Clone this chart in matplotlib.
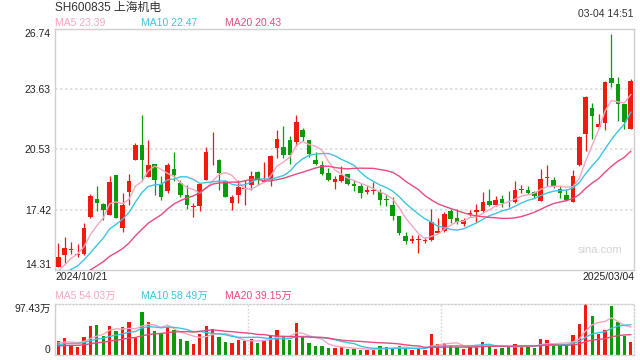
import numpy as np
import matplotlib
matplotlib.use("Agg")
import matplotlib.pyplot as plt

plt.rcParams['font.family'] = ['Liberation Sans', 'Noto Sans CJK SC', 'DejaVu Sans']

# 日K 数据 (2024/10/21 ~ 2025/03/04), 图上读数
opens = [14.48, 15.09, 15.36, 15.10, 15.14, 17.04, 17.98, 17.72, 17.16, 19.23,
         16.47, 18.31, 20.00, 20.78, 19.09, 19.80, 18.76, 18.36, 19.54, 18.80,
         18.19, 17.57, 17.59, 18.97, 20.07, 20.00, 18.88, 17.79, 18.19, 18.48,
         18.67, 19.36, 18.85, 18.97, 20.61, 20.66, 20.99, 20.92, 21.52, 20.99,
         20.00, 19.73, 19.31, 18.83, 18.92, 19.26, 18.74, 18.66, 18.31, 18.38,
         18.33, 17.95, 17.67, 17.12, 16.07, 15.83, 15.86, 15.82, 15.86, 16.24,
         16.33, 17.33, 16.98, 16.69, 17.22, 17.28, 17.33, 17.88, 17.67, 17.97,
         18.04, 17.80, 18.43, 18.45, 18.33, 17.85, 19.05, 18.93, 18.48, 18.16,
         17.80, 19.74, 21.35, 22.64, 21.69, 21.87, 24.19, 23.88, 22.85, 21.59]
closes = [15.00, 15.47, 15.40, 15.15, 16.50, 18.14, 17.79, 17.38, 18.83, 16.98,
          17.67, 18.92, 20.78, 20.00, 19.74, 18.93, 18.05, 19.74, 19.19, 18.16,
          17.64, 17.60, 18.76, 20.40, 20.10, 19.31, 18.10, 18.05, 18.57, 18.52,
          19.17, 18.97, 18.92, 20.18, 21.07, 20.26, 20.23, 21.93, 21.18, 20.30,
          19.80, 19.28, 18.97, 19.02, 19.23, 18.76, 18.62, 18.28, 18.45, 18.42,
          17.93, 17.91, 17.12, 16.21, 15.78, 15.93, 15.90, 15.86, 16.76, 16.33,
          17.21, 16.93, 16.76, 16.90, 17.26, 17.42, 17.80, 17.67, 17.93, 17.76,
          18.00, 18.45, 18.47, 18.28, 18.14, 19.02, 19.09, 18.62, 18.28, 17.90,
          19.17, 21.16, 23.23, 22.25, 21.85, 24.02, 23.94, 22.85, 21.93, 24.06]
highs = [15.69, 16.00, 15.74, 15.66, 16.72, 18.23, 18.62, 17.76, 19.14, 19.23,
         18.28, 19.28, 20.87, 22.28, 20.99, 19.80, 19.17, 19.83, 20.40, 18.93,
         18.71, 17.76, 18.76, 20.66, 21.42, 20.04, 18.97, 18.19, 18.97, 18.97,
         19.43, 19.43, 19.87, 20.26, 21.52, 21.76, 21.24, 22.28, 21.64, 20.99,
         20.38, 19.92, 19.57, 19.17, 19.69, 19.26, 18.93, 18.80, 18.62, 18.83,
         18.50, 18.24, 18.05, 17.12, 16.29, 16.09, 16.09, 16.03, 17.47, 16.98,
         17.28, 17.45, 17.47, 16.98, 17.38, 17.73, 18.33, 18.48, 18.11, 18.16,
         18.36, 18.92, 18.67, 18.62, 18.36, 19.54, 19.74, 19.09, 18.62, 18.48,
         19.45, 21.21, 23.28, 22.90, 22.37, 24.06, 26.47, 24.26, 22.85, 24.14]
lows = [14.48, 14.66, 15.14, 15.00, 15.10, 16.98, 17.33, 16.90, 17.16, 16.98,
        16.29, 17.67, 20.00, 18.88, 19.09, 18.19, 17.90, 18.28, 18.88, 18.07,
        17.47, 17.04, 17.33, 18.97, 19.74, 18.42, 18.07, 17.42, 17.76, 17.67,
        18.42, 18.71, 18.83, 18.66, 20.09, 20.09, 19.80, 20.73, 20.95, 20.12,
        19.74, 19.23, 18.88, 18.48, 18.83, 18.71, 18.36, 18.02, 18.24, 18.24,
        17.67, 17.62, 16.90, 16.12, 15.64, 15.72, 15.21, 15.69, 15.83, 16.21,
        16.29, 16.73, 16.69, 16.60, 17.07, 16.76, 17.28, 17.62, 17.59, 17.55,
        17.55, 17.76, 18.28, 18.23, 18.02, 17.85, 18.62, 18.54, 18.02, 17.85,
        17.80, 19.69, 20.43, 21.09, 21.64, 21.52, 23.76, 21.99, 21.56, 21.59]
# 成交量 (万手)
volumes = [26.9, 33.3, 19.2, 15.4, 34.6, 54.5, 56.4, 36.5, 55.8, 46.8,
           52.6, 62.2, 33.3, 81.4, 62.2, 46.8, 41.7, 52.6, 48.1, 30.8,
           26.9, 21.8, 40.4, 55.8, 50.0, 34.6, 25.0, 23.7, 28.8, 27.6,
           30.8, 23.7, 27.6, 38.5, 48.1, 36.5, 28.8, 60.3, 34.0, 23.7,
           17.3, 17.3, 13.5, 14.1, 14.7, 11.5, 11.5, 9.6, 9.6, 9.6,
           17.3, 14.7, 12.8, 17.3, 12.8, 9.6, 12.8, 9.6, 40.4, 21.2,
           22.4, 17.9, 14.7, 11.5, 16.0, 18.6, 25.0, 17.3, 11.5, 12.8,
           16.0, 21.2, 17.3, 16.0, 13.5, 30.8, 28.8, 19.2, 19.2, 17.9,
           38.5, 59.6, 97.43, 75.0, 40.4, 48.1, 94.2, 62.2, 37.2, 25.6]
# 均线计算用的前19日 (估计)
pre_close = [13.10, 13.25, 13.05, 13.40, 13.20, 13.60, 13.00, 13.35, 13.20, 13.45,
             13.30, 13.15, 13.40, 13.35, 14.50, 13.90, 13.70, 14.00, 14.68]
pre_vol = [14, 12, 15, 13, 16, 18, 14, 12, 15, 17, 13, 16, 14, 18, 20, 24, 19, 22, 23]

price_ticks = [14.31, 17.42, 20.53, 23.63, 26.74]
date_labels = ['2024/10/21', '2025/03/04']

RED = '#f01a10'
GREEN = '#0a9b0a'
C5 = '#f6a6bf'
C10 = '#3ec3e2'
C20 = '#e84a7e'
GRID = '#dddddd'
EDGE = '#cfcfcf'


def ma(pre, vals, n):
    s = np.array(pre + vals, dtype=float)
    out = np.convolve(s, np.ones(n) / n, mode='valid')
    return out[-len(vals):]


W, H = 640, 360
fig = plt.figure(figsize=(6.4, 3.6), dpi=100)
ax = fig.add_axes([55 / W, 1 - 270 / H, 579 / W, 241 / H])
axv = fig.add_axes([55 / W, 1 - 355 / H, 579 / W, 51 / H])

o = np.array(opens); c = np.array(closes)
x = np.arange(len(opens))
cols = np.where(c >= o, RED, GREEN)

# K线
ax.vlines(x, lows, highs, colors=cols, lw=0.9, zorder=3)
ax.bar(x, np.maximum(np.abs(c - o), 0.04), 0.72, bottom=np.minimum(o, c),
       color=cols, linewidth=0, zorder=3)
ax.plot(x, ma(pre_close, closes, 5), color=C5, lw=1, zorder=4)
ax.plot(x, ma(pre_close, closes, 10), color=C10, lw=1, zorder=4)
ax.plot(x, ma(pre_close, closes, 20), color=C20, lw=1, zorder=4)

ax.set_xlim(-0.5, len(x) - 0.5)
ax.set_ylim(price_ticks[0], price_ticks[-1])
for t in price_ticks[1:-1]:
    ax.axhline(t, color=GRID, lw=1.2, ls=(0, (1.5, 1.5)), zorder=1)
ax.set_yticks(price_ticks)
ax.set_yticklabels(['%.2f' % t for t in price_ticks])
ax.tick_params(axis='y', length=0, pad=3, labelsize=7.5, labelcolor='#222222')
ax.set_xticks([])
labs = ax.get_yticklabels()
labs[0].set_va('bottom')
labs[-1].set_va('top')
for s in ax.spines.values():
    s.set_color(EDGE)
    s.set_linewidth(1)
ax.text(0.98, 0.085, 'sina.com', transform=ax.transAxes, ha='right', va='center',
        fontsize=8, color='#d4d4d4')

# 成交量
axv.bar(x, volumes, 0.52, color=cols, linewidth=0, zorder=2)
axv.plot(x, ma(pre_vol, volumes, 5), color=C5, lw=1, zorder=3)
axv.plot(x, ma(pre_vol, volumes, 10), color=C10, lw=1, zorder=3)
axv.plot(x, ma(pre_vol, volumes, 20), color=C20, lw=1, zorder=3)
axv.set_xlim(-0.5, len(x) - 0.5)
axv.set_ylim(0, max(volumes))
axv.set_xticks([])
axv.set_yticks([0, max(volumes)])
axv.set_yticklabels(['0', '%.2f万' % max(volumes)])
axv.tick_params(axis='y', length=0, pad=3, labelsize=7.5, labelcolor='#222222')
vl = axv.get_yticklabels()
vl[0].set_va('bottom')
vl[-1].set_va('top')
for k in (29.5, 59.5):
    axv.axvline(k, color=EDGE, lw=1, ls=(0, (1, 1.5)), zorder=1)
for name, s in axv.spines.items():
    s.set_color(EDGE)
    s.set_linewidth(1)
    if name != 'left':
        s.set_linestyle((0, (1, 1.5)))

# 文字
def ft(px, py, txt, **kw):
    fig.text(px / W, 1 - py / H, txt, va='center', **kw)

ft(55, 8, 'SH600835 上海机电', fontsize=8.5, color='#333333')
ft(634, 14, '03-04 14:51', fontsize=7.5, color='#333333', ha='right')
ft(55, 23.5, 'MA5 %.2f' % 23.39, fontsize=7.5, color=C5)
ft(140.7, 23.5, 'MA10 %.2f' % 22.47, fontsize=7.5, color=C10)
ft(225.3, 23.5, 'MA20 %.2f' % 20.43, fontsize=7.5, color=C20)
ft(55, 277, date_labels[0], fontsize=7.5, color='#222222')
ft(634, 277, date_labels[1], fontsize=7.5, color='#222222', ha='right')
ft(55, 296, 'MA5 54.03万', fontsize=7.5, color=C5)
ft(140.7, 296, 'MA10 58.49万', fontsize=7.5, color=C10)
ft(225.3, 296, 'MA20 39.15万', fontsize=7.5, color=C20)

fig.savefig('out.png', dpi=100)
